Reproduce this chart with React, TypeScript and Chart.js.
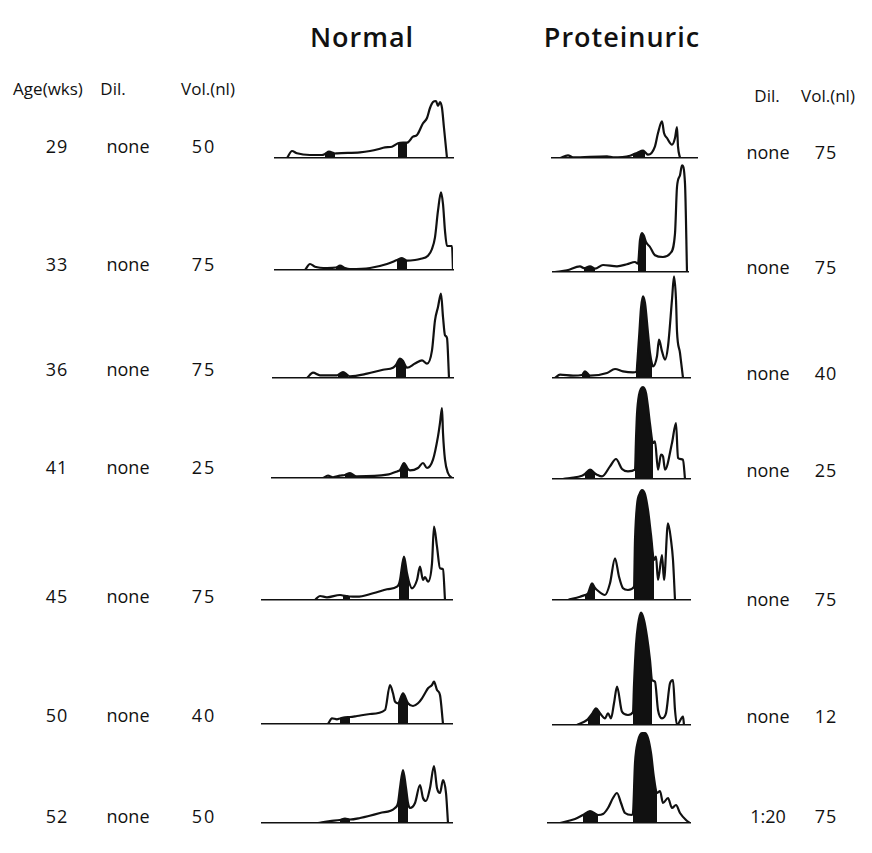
import React, { useEffect, useRef } from "react";
import { Chart, registerables } from "chart.js";
Chart.register(...registerables);

// ---------- labels ----------
const ages = ["29", "33", "36", "41", "45", "50", "52"];
const normalDil = ["none", "none", "none", "none", "none", "none", "none"];
const normalVol = ["50", "75", "75", "25", "75", "40", "50"];
const protDil = ["none", "none", "none", "none", "none", "none", "1:20"];
const protVol = ["75", "75", "40", "25", "75", "12", "75"];

// ---------- densitometer scans (scan position, density) ----------
// Normal
const n29X = [287, 292, 297, 310, 322, 325, 329, 335, 337, 360, 370, 378, 385, 392, 398, 403, 407, 413, 417, 423, 427, 430, 433, 436, 438, 440, 442, 444, 447];
const n29Y = [0, 7, 4.7, 3, 3, 4, 6.3, 4.5, 4.7, 5.7, 7, 8.7, 10.7, 11.3, 14.7, 15.3, 15.3, 21.3, 23, 34.7, 40, 50, 56, 57, 52, 56, 50, 30, 0];
const n29Bands = [[325, 335], [398, 407]];

const n33X = [305, 310, 315, 327, 336, 340, 345, 350, 370, 387, 397, 402, 407, 415, 420, 428, 432, 435, 438, 441, 443, 445, 447, 452, 453];
const n33Y = [0, 6, 3.3, 2, 2.5, 4.3, 2, 1, 2, 6, 10, 12, 9.3, 10, 11, 14.3, 21, 32.7, 59.3, 77.6, 66, 39, 24, 24, 0];
const n33Bands = [[336, 345], [397, 407]];

const n36X = [307, 313, 320, 337, 338, 343, 348, 350, 367, 383, 393, 396, 400, 403, 406, 407, 415, 422, 427, 432, 435, 438, 441, 443, 445, 447, 449];
const n36Y = [0, 5.3, 2.7, 2.7, 3, 6, 2.5, 1.7, 4.3, 8.3, 10.3, 13, 19.4, 17, 11, 10.3, 14.4, 17.7, 14.4, 27.7, 57.7, 71, 84.4, 61, 42.7, 40, 0];
const n36Bands = [[338, 348], [396, 406]];

const n41X = [323, 328, 333, 340, 345, 350, 355, 357, 387, 397, 400, 404, 408, 410, 418, 423, 427, 433, 438, 440, 442, 443, 445, 448, 452];
const n41Y = [0, 2.3, 0.7, 2.3, 3, 5, 2, 1.6, 3.3, 6.6, 8, 15, 9, 7.6, 10, 15, 10, 18.3, 41.6, 55, 70, 45, 18.3, 5, 0];
const n41Bands = [[345, 355], [400, 408]];

const n45X = [315, 320, 327, 340, 343, 347, 350, 357, 373, 387, 397, 399, 400, 404, 407, 409, 412, 417, 420, 423, 425, 428, 432, 434, 437, 440, 443, 445];
const n45Y = [0, 4, 2.7, 5, 4.5, 4, 3.5, 3.3, 6.7, 10.7, 13.3, 16, 20, 43.3, 26.7, 18, 11.7, 20, 33.3, 20, 23, 18.3, 36.7, 73.3, 53.3, 31.7, 30.7, 0];
const n45Bands = [[343, 350], [399, 409]];

const n50X = [328, 332, 337, 340, 345, 350, 357, 370, 385, 390, 393, 395, 398, 403, 408, 413, 418, 422, 425, 428, 432, 434, 437, 440, 443];
const n50Y = [0, 5.7, 4.7, 5.5, 6.7, 7, 8, 10, 14, 39, 30.7, 22.3, 20.7, 30.7, 20.7, 18, 20.7, 25.7, 30.7, 35.7, 39, 42.3, 34, 29, 0];
const n50Bands = [[340, 350], [398, 408]];

const n52X = [318, 330, 340, 345, 350, 360, 380, 395, 398, 400, 403, 406, 408, 410, 415, 420, 423, 426, 430, 434, 437, 440, 443, 446, 448];
const n52Y = [0, 2, 3, 4.5, 3.5, 5, 10, 15, 20, 35, 53, 35, 20, 15, 20, 38, 25, 22, 35, 57, 35, 30, 43, 30, 0];
const n52Bands = [[340, 350], [398, 408]];

// Proteinuric
const p29X = [560, 568, 573, 607, 613, 630, 633, 637, 643, 645, 648, 655, 658, 662, 664, 667, 672, 675, 677, 678, 680];
const p29Y = [0, 2.7, 0.7, 1.7, 0.7, 2.3, 3.5, 5, 7.3, 6, 3.3, 11.7, 25, 36.6, 25, 20, 13.3, 20, 31, 11.7, 0];
const p29Bands = [[633, 645]];

const p33X = [555, 567, 580, 584, 590, 595, 603, 617, 627, 635, 638, 640, 642, 644, 646, 650, 655, 663, 670, 675, 677, 680, 682, 685, 687];
const p33Y = [0, 1.7, 5.7, 3.8, 5.7, 3.3, 7, 5.7, 7.7, 10, 8.4, 32, 39, 36, 30, 25, 16.7, 15, 18.4, 38.4, 85, 96.7, 106.7, 88.4, 0];
const p33Bands = [[584, 595], [638, 646]];

const p36X = [555, 560, 573, 582, 585, 590, 607, 615, 623, 633, 636, 639, 641, 643, 645, 648, 650, 652, 653, 657, 659, 662, 665, 668, 672, 674, 676, 677, 680, 683];
const p36Y = [0, 3.3, 2.3, 3, 6.7, 2.3, 5, 9, 6.7, 5.7, 6, 40, 70, 81.6, 75, 45, 25, 14, 11.7, 21.7, 38.3, 26.6, 18.3, 31.6, 78.3, 101.6, 78.3, 46.6, 25, 0];
const p36Bands = [[582, 590], [636, 652]];

const p41X = [563, 570, 582, 585, 590, 595, 597, 602, 610, 616, 622, 628, 635, 636, 637, 639, 643, 646, 648, 650, 653, 655, 658, 661, 663, 665, 672, 676, 678, 683, 685];
const p41Y = [0, 1, 3.3, 5, 9.3, 5.5, 4.3, 2.6, 12.6, 20, 10, 7.6, 9.3, 40, 65, 84, 92, 86, 72, 55, 36, 37.6, 9.3, 24.3, 22.6, 9.3, 36, 56, 21, 19.3, 0];
const p41Bands = [[585, 595], [635, 653]];

const p45X = [568, 580, 585, 588, 592, 595, 597, 605, 610, 615, 619, 623, 628, 634, 635, 637, 640, 642, 645, 648, 651, 654, 656, 658, 662, 664, 668, 671, 673, 675];
const p45Y = [0, 3.3, 5, 6.7, 16.7, 12, 10, 5, 16.7, 41.7, 23.3, 11.7, 10, 13.3, 60, 95, 107, 110, 106, 90, 65, 40, 43.3, 20, 45, 20, 76.7, 60, 40, 0];
const p45Bands = [[585, 595], [634, 654]];

const p50X = [577, 587, 588, 592, 596, 600, 605, 608, 611, 614, 617, 622, 628, 633, 634, 636, 638, 641, 644, 647, 650, 652, 655, 658, 662, 666, 670, 673, 675, 677, 683, 684];
const p50Y = [0, 5, 6, 11, 16.7, 11.7, 6.7, 11.7, 6.7, 21.7, 38.3, 13.3, 10, 13, 40, 80, 100, 112.3, 105, 88.3, 65, 45, 43.3, 15, 6.7, 11.7, 41.7, 45, 15, 0, 8.3, 0];
const p50Bands = [[588, 600], [633, 652]];

const p52X = [560, 575, 583, 590, 598, 603, 608, 613, 617, 621, 625, 632, 633, 635, 638, 642, 645, 648, 651, 654, 657, 660, 663, 668, 672, 676, 680, 686, 690];
const p52Y = [0, 4, 8, 12, 8, 9, 15, 25, 30, 20, 10, 8, 10, 60, 82, 90, 90, 85, 70, 45, 30, 32, 20, 25, 15, 18, 10, 3, 0];
const p52Bands = [[583, 598], [633, 657]];

// ---------- layout (page pixels) ----------
const YMAX = 120;
const PAD = 3;
const normalBase = [158, 270, 378, 478, 600, 724, 823];
const normalFrom = [275, 275, 273, 272, 262, 262, 262];
const normalTo = [453, 453, 453, 453, 452, 452, 452];
const protBase = [158, 272, 378, 479, 600, 725, 823];
const protFrom = [552, 553, 553, 553, 553, 553, 548];
const protTo = [697, 688, 690, 690, 690, 690, 690];
const leftLabelY = [146, 264, 369, 467, 596, 715, 816];
const rightLabelY = [152, 267, 373, 470, 599, 716, 816];

const normalScans = [
  [n29X, n29Y, n29Bands],
  [n33X, n33Y, n33Bands],
  [n36X, n36Y, n36Bands],
  [n41X, n41Y, n41Bands],
  [n45X, n45Y, n45Bands],
  [n50X, n50Y, n50Bands],
  [n52X, n52Y, n52Bands],
] as [number[], number[], number[][]][];
const protScans = [
  [p29X, p29Y, p29Bands],
  [p33X, p33Y, p33Bands],
  [p36X, p36Y, p36Bands],
  [p41X, p41Y, p41Bands],
  [p45X, p45Y, p45Bands],
  [p50X, p50Y, p50Bands],
  [p52X, p52Y, p52Bands],
] as [number[], number[], number[][]][];

const INK = "#111";
const FONT = "'Open Sans', 'DejaVu Sans', sans-serif";

function ScanChart(props: { xs: number[]; ys: number[]; bands: number[][]; from: number; to: number; base: number }) {
  const ref = useRef<HTMLCanvasElement>(null);
  const { xs, ys, bands, from, to, base } = props;
  const w = to - from + 2 * PAD;
  const h = YMAX + 2 * PAD;
  useEffect(() => {
    if (!ref.current) return;
    const pts = xs.map((x, i) => ({ x, y: ys[i] }));
    const bandSets = bands.map((b) => ({
      data: pts.filter((p) => p.x >= b[0] && p.x <= b[1]),
      borderWidth: 0,
      borderColor: "rgba(0,0,0,0)",
      backgroundColor: INK,
      fill: "origin" as const,
      pointRadius: 0,
      cubicInterpolationMode: "monotone" as const,
    }));
    const chart = new Chart(ref.current, {
      type: "line",
      data: {
        datasets: [
          {
            data: pts,
            borderColor: INK,
            borderWidth: 2.2,
            pointRadius: 0,
            fill: false,
            cubicInterpolationMode: "monotone",
          },
          ...bandSets,
        ] as any,
      },
      options: {
        animation: false,
        responsive: false,
        maintainAspectRatio: false,
        events: [],
        layout: { padding: { top: PAD, bottom: PAD, left: PAD, right: PAD } },
        plugins: { legend: { display: false }, tooltip: { enabled: false } },
        scales: {
          x: {
            type: "linear",
            min: from,
            max: to,
            display: true,
            grid: { display: false, drawTicks: false },
            ticks: { display: false },
            border: { display: true, color: INK, width: 1.6 },
          },
          y: { min: 0, max: YMAX, display: false },
        },
      },
    });
    return () => chart.destroy();
  }, [xs, ys, bands, from, to]);
  return (
    <canvas
      ref={ref}
      width={w}
      height={h}
      style={{ position: "absolute", left: from - PAD, top: base - YMAX - PAD, width: w, height: h }}
    />
  );
}

function Label(props: { text: string; x: number; y: number; size: number; weight?: number; spacing?: number }) {
  return (
    <div
      style={{
        position: "absolute",
        left: props.x,
        top: props.y,
        transform: "translate(-50%, -50%)",
        fontFamily: FONT,
        fontSize: props.size,
        fontWeight: props.weight ?? 500,
        letterSpacing: props.spacing ?? 0,
        lineHeight: 1,
        whiteSpace: "nowrap",
        color: INK,
      }}
    >
      {props.text}
    </div>
  );
}

export default function App() {
  return (
    <div style={{ position: "fixed", left: 0, top: 0, width: 872, height: 853, background: "#fff", overflow: "hidden" }}>
      <Label text="Normal" x={362} y={36} size={27} weight={600} spacing={1} />
      <Label text="Proteinuric" x={622} y={36} size={27} weight={600} spacing={1} />
      <Label text="Age(wks)" x={48} y={88} size={17} />
      <Label text="Dil." x={113} y={88} size={17} />
      <Label text="Vol.(nl)" x={208} y={88} size={17} />
      <Label text="Dil." x={767} y={95} size={17} />
      <Label text="Vol.(nl)" x={828} y={95} size={17} />
      {ages.map((a, i) => (
        <React.Fragment key={"l" + i}>
          <Label text={a} x={57} y={leftLabelY[i]} size={18} spacing={1} />
          <Label text={normalDil[i]} x={128} y={leftLabelY[i]} size={18} />
          <Label text={normalVol[i]} x={204} y={leftLabelY[i]} size={18} spacing={2} />
          <Label text={protDil[i]} x={768} y={rightLabelY[i]} size={18} />
          <Label text={protVol[i]} x={826} y={rightLabelY[i]} size={18} spacing={1} />
        </React.Fragment>
      ))}
      {normalScans.map((s, i) => (
        <ScanChart key={"n" + i} xs={s[0]} ys={s[1]} bands={s[2]} from={normalFrom[i]} to={normalTo[i]} base={normalBase[i]} />
      ))}
      {protScans.map((s, i) => (
        <ScanChart key={"p" + i} xs={s[0]} ys={s[1]} bands={s[2]} from={protFrom[i]} to={protTo[i]} base={protBase[i]} />
      ))}
    </div>
  );
}
